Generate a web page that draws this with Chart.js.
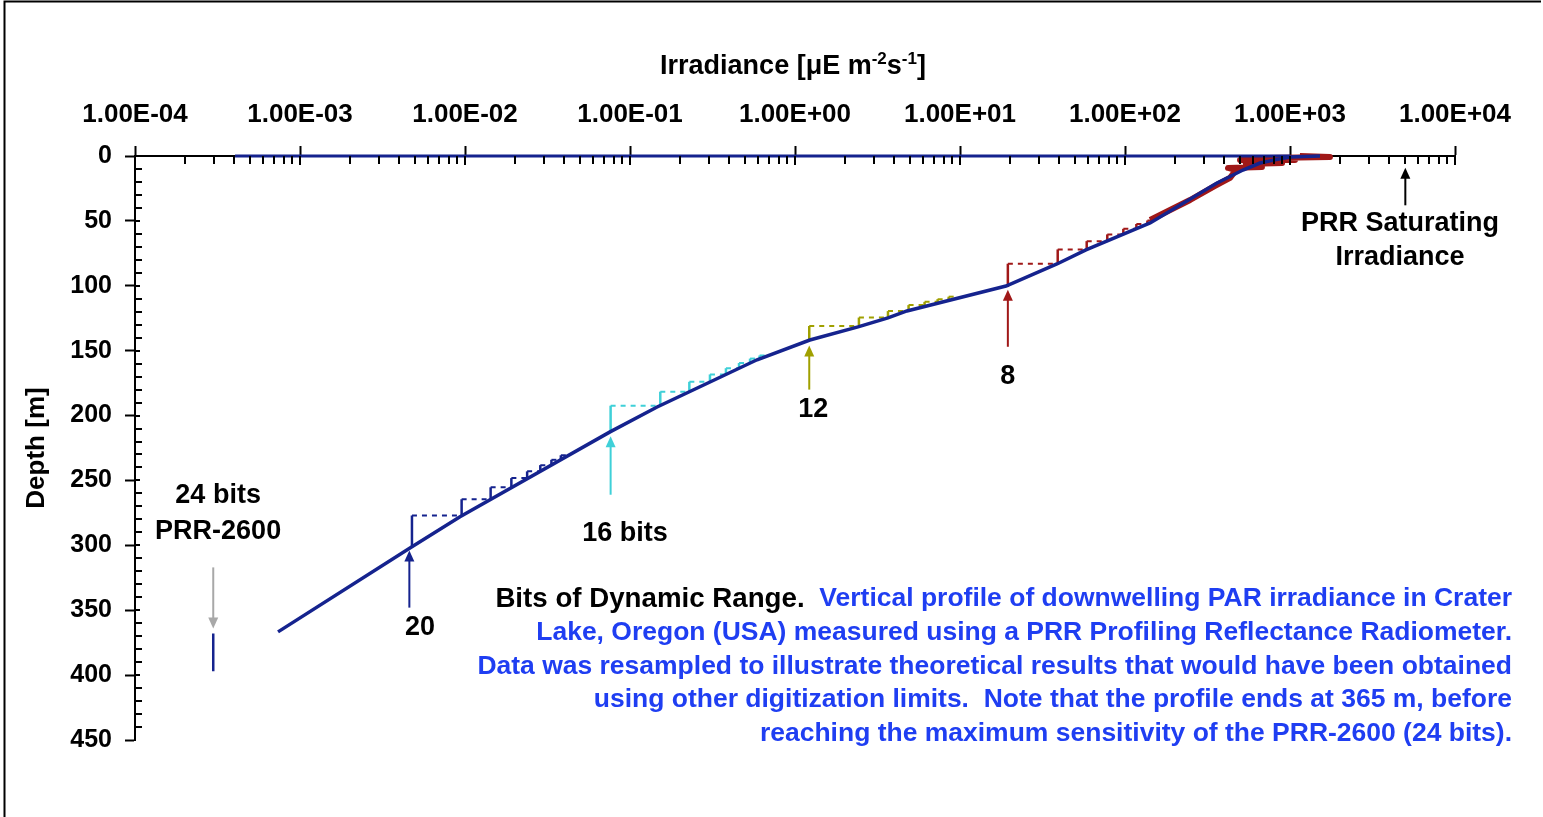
<!DOCTYPE html>
<html>
<head>
<meta charset="utf-8">
<title>Bits of Dynamic Range</title>
<script src="https://cdn.jsdelivr.net/npm/chart.js@4.4.1/dist/chart.umd.min.js"></script>
<style>
  html, body { margin: 0; padding: 0; background: #fff; }
  #wrap { width: 1543px; height: 817px; }
</style>
</head>
<body>
<div id="wrap"><canvas id="chart" width="1543" height="817"></canvas></div>
<script>
"use strict";

// top axis decades and depth ticks
var decadeTicks = [1e-4, 1e-3, 1e-2, 1e-1, 1e0, 1e1, 1e2, 1e3, 1e4];
var depthTicks  = [0, 50, 100, 150, 200, 250, 300, 350, 400, 450];

// measured PRR profile, irradiance [uE m-2 s-1] vs depth [m]
var profileIrr   = [1520, 1000, 811, 658, 519, 361, 142, 58.0, 38.7, 19.0, 4.77, 3.66, 2.41, 1.23, 0.589, 0.146, 0.0757, 0.00933, 0.00464, 0.000736];
var profileDepth = [0,    0.8,  3,   5.4, 10.8, 20.8, 51.6, 72.4, 83.2, 100.2, 119.4, 124.8, 131.7, 141.8, 157, 193.4, 212.6, 278, 302, 366.7];

// noisy near-surface readings (wave focusing)
var surfIrr   = [142, 248, 351, 433, 471, 421, 676, 541, 895, 498, 1072, 736, 1746, 1148];
var surfDepth = [49.3, 33.9, 23.1, 16.9, 10.8, 9.2, 8.5, 6.2, 5.4, 3.1, 3.1, 1.5, 0.8, 0];

// surface row
var topIrr   = [0.000404, 1000];
var topDepth = [0, 0];

// resampled staircases: quantisation levels and depth where the profile crosses each
var bits8Levels  = [19.5, 39.1, 58.6, 78.1, 97.7, 117.2, 136.7, 156.3];
var bits8Depths  = [101, 83, 72, 65.6, 60.4, 56.1, 52.4, 49.7];
var bits12Levels = [1.22, 2.44, 3.66, 4.88, 6.10, 7.32, 8.54, 9.77];
var bits12Depths = [142, 131, 124.5, 119.5, 114.9, 112.4, 110.3, 108.4];
var bits16Levels = [0.0763, 0.1526, 0.2289, 0.3052, 0.3815, 0.4578, 0.5341, 0.6104, 0.6867];
var bits16Depths = [212, 192.4, 181.6, 174, 168.3, 163.5, 159.5, 156.1, 153.7];
var bits20Levels = [0.00477, 0.00954, 0.0143, 0.0191, 0.0238, 0.0286, 0.0334, 0.0381, 0.0429];
var bits20Depths = [301, 277, 264.5, 255.3, 248.2, 243, 238.2, 234.1, 230.6];
var bits24Irr    = [0.000298, 0.000298];
var bits24Depth  = [368, 397];

var NAVY = "#15238e";
var RED = "#a01818";
var OLIVE = "#a0a000";
var CYAN = "#3fd0d8";
var GREY = "#a8a8a8";
var TEXTBLUE = "#1f3ef2";
var FONT = "'Liberation Sans', Arial, sans-serif";

function pairs(xs, ys) {
    return xs.map(function(v, i) { return {x: v, y: ys[i]}; });
}

// vertical step at each level, dashed run across to the next one
function stairs(levels, depths) {
    var pts = [{x: levels[0], y: depths[0]}];
    for (var k = 1; k < levels.length; k++) {
        pts.push({x: levels[k - 1], y: depths[k]});
        pts.push({x: levels[k], y: depths[k]});
    }
    return pts;
}

function stairSet(levels, depths, color) {
    return {
        data: stairs(levels, depths),
        borderColor: color,
        borderWidth: 2.5,
        segment: {
            borderDash: function(ctx) { return ctx.p0DataIndex % 2 === 1 ? [5, 5] : undefined; },
            borderWidth: function(ctx) { return ctx.p0DataIndex % 2 === 1 ? 2 : 2.5; }
        }
    };
}

function sci(v) {
    var e = Math.round(Math.log10(v));
    return "1.00E" + (e < 0 ? "-" : "+") + String(Math.abs(e)).padStart(2, "0");
}

var datasets = [
    {data: pairs(profileIrr, profileDepth), borderColor: NAVY, borderWidth: 3.5},
    {data: pairs(topIrr, topDepth), borderColor: NAVY, borderWidth: 3},
    {data: pairs(surfIrr, surfDepth), borderColor: RED, borderWidth: 6, borderJoinStyle: "round"},
    stairSet(bits8Levels, bits8Depths, RED),
    stairSet(bits12Levels, bits12Depths, OLIVE),
    stairSet(bits16Levels, bits16Depths, CYAN),
    stairSet(bits20Levels, bits20Depths, NAVY),
    {data: pairs(bits24Irr, bits24Depth), borderColor: NAVY, borderWidth: 2.5}
];
datasets.forEach(function(d) {
    d.pointRadius = 0;
    d.tension = 0;
    d.fill = false;
    d.clip = 6;
});

// arrows and labels, in data coordinates
var arrows = [
    {v: 5000,    from: 38,  to: 9,   color: "#000"},
    {v: 19.5,    from: 147, to: 103, color: RED},
    {v: 1.22,    from: 180, to: 146, color: OLIVE},
    {v: 0.0763,  from: 261, to: 216, color: CYAN},
    {v: 0.0046,  from: 348, to: 304, color: NAVY},
    {v: 0.000298, from: 317, to: 364, color: GREY}
];
var labels = [
    {v: 4645,    d: 52.4,  text: "PRR Saturating"},
    {v: 4645,    d: 78.6,  text: "Irradiance"},
    {v: 19.5,    d: 170,   text: "8"},
    {v: 1.29,    d: 195.7, text: "12"},
    {v: 0.0934,  d: 291,   text: "16 bits"},
    {v: 0.00533, d: 363,   text: "20"},
    {v: 0.000319, d: 262,  text: "24 bits"},
    {v: 0.000319, d: 289,  text: "PRR-2600"}
];
var noteLines = [
    [["Bits of Dynamic Range.", "#000"], ["  Vertical profile of downwelling PAR irradiance in Crater", TEXTBLUE]],
    [["Lake, Oregon (USA) measured using a PRR Profiling Reflectance Radiometer.", TEXTBLUE]],
    [["Data was resampled to illustrate theoretical results that would have been obtained", TEXTBLUE]],
    [["using other digitization limits.  Note that the profile ends at 365 m, before", TEXTBLUE]],
    [["reaching the maximum sensitivity of the PRR-2600 (24 bits).", TEXTBLUE]]
];

function drawArrow(ctx, x, y0, y1, color) {
    var dir = y1 > y0 ? 1 : -1;
    ctx.strokeStyle = color;
    ctx.fillStyle = color;
    ctx.lineWidth = 2;
    ctx.beginPath();
    ctx.moveTo(x, y0);
    ctx.lineTo(x, y1 - dir * 8);
    ctx.stroke();
    ctx.beginPath();
    ctx.moveTo(x, y1);
    ctx.lineTo(x - 5, y1 - dir * 11);
    ctx.lineTo(x + 5, y1 - dir * 11);
    ctx.closePath();
    ctx.fill();
}

var extras = {
    id: "extras",
    afterDraw: function(chart) {
        var ctx = chart.ctx;
        var xs = chart.scales.x, ys = chart.scales.y;
        var area = chart.chartArea;
        ctx.save();

        // frame
        ctx.strokeStyle = "#000";
        ctx.lineWidth = 2;
        ctx.beginPath();
        ctx.moveTo(1541, 1.5);
        ctx.lineTo(4.5, 1.5);
        ctx.lineTo(4.5, 817);
        ctx.stroke();

        // inner tick marks
        ctx.lineWidth = 2;
        ctx.beginPath();
        for (var e = -4; e <= 3; e++) {
            for (var m = 1; m <= 9; m++) {
                var px = Math.round(xs.getPixelForValue(m * Math.pow(10, e)));
                ctx.moveTo(px, area.top);
                ctx.lineTo(px, area.top + (m === 1 ? 9 : 8));
            }
        }
        var pr = Math.round(xs.getPixelForValue(1e4));
        ctx.moveTo(pr, area.top);
        ctx.lineTo(pr, area.top + 9);
        for (var d = 10; d < 450; d += 10) {
            var py = Math.round(ys.getPixelForValue(d));
            ctx.moveTo(area.left, py);
            ctx.lineTo(area.left + (d % 50 === 0 ? 5 : 7), py);
        }
        ctx.stroke();

        // axis title with superscripts
        var big = "bold 27px " + FONT, small = "bold 17px " + FONT;
        var parts = [["Irradiance [\u03bcE m", big, 0], ["-2", small, -10], ["s", big, 0], ["-1", small, -10], ["]", big, 0]];
        var total = 0;
        parts.forEach(function(p) { ctx.font = p[1]; total += ctx.measureText(p[0]).width; });
        var tx = 793 - total / 2;
        ctx.fillStyle = "#000";
        ctx.textBaseline = "alphabetic";
        ctx.textAlign = "left";
        parts.forEach(function(p) {
            ctx.font = p[1];
            ctx.fillText(p[0], tx, 74 + p[2]);
            tx += ctx.measureText(p[0]).width;
        });

        // arrows
        arrows.forEach(function(a) {
            drawArrow(ctx, xs.getPixelForValue(a.v), ys.getPixelForValue(a.from), ys.getPixelForValue(a.to), a.color);
        });

        // labels
        ctx.font = "bold 27px " + FONT;
        ctx.fillStyle = "#000";
        ctx.textAlign = "center";
        ctx.textBaseline = "middle";
        labels.forEach(function(l) {
            ctx.fillText(l.text, xs.getPixelForValue(l.v), ys.getPixelForValue(l.d));
        });

        // caption, right aligned, sized to the third line
        ctx.font = "bold 24px " + FONT;
        var w3 = ctx.measureText(noteLines[2][0][0]).width;
        var size = Math.max(18, Math.min(28, 24 * 1035 / w3));
        var bodyFont = "bold " + size.toFixed(2) + "px " + FONT;
        var leadFont = "bold " + (size * 1.045).toFixed(2) + "px " + FONT;
        ctx.textAlign = "left";
        var lineY = [599, 633, 667, 700, 734];
        noteLines.forEach(function(line, i) {
            var w = 0;
            line.forEach(function(s) {
                ctx.font = s[1] === "#000" ? leadFont : bodyFont;
                w += ctx.measureText(s[0]).width;
            });
            var x = 1512 - w;
            line.forEach(function(s) {
                ctx.font = s[1] === "#000" ? leadFont : bodyFont;
                ctx.fillStyle = s[1];
                ctx.fillText(s[0], x, lineY[i]);
                x += ctx.measureText(s[0]).width;
            });
        });
        ctx.restore();
    }
};

new Chart(document.getElementById("chart"), {
    type: "line",
    data: {datasets: datasets},
    options: {
        responsive: false,
        animation: false,
        parsing: false,
        normalized: true,
        layout: {padding: {left: 5, top: 0, right: 88, bottom: 77}},
        plugins: {legend: {display: false}, tooltip: {enabled: false}},
        scales: {
            x: {
                type: "logarithmic",
                position: "top",
                min: 1e-4,
                max: 1e4,
                afterBuildTicks: function(s) { s.ticks = decadeTicks.map(function(v) { return {value: v, major: true}; }); },
                afterFit: function(s) { s.height = 156; },
                ticks: {
                    callback: function(v) { return sci(v); },
                    color: "#000",
                    font: {family: FONT, size: 26, weight: "bold"},
                    padding: 16,
                    maxRotation: 0,
                    autoSkip: false
                },
                grid: {drawOnChartArea: false, drawTicks: true, tickLength: 10, tickWidth: 2, tickColor: "#000", color: "#000"},
                border: {display: true, color: "#000", width: 2}
            },
            y: {
                type: "linear",
                position: "left",
                reverse: true,
                min: 0,
                max: 450,
                afterBuildTicks: function(s) { s.ticks = depthTicks.map(function(v) { return {value: v}; }); },
                afterFit: function(s) { s.width = 130; },
                ticks: {
                    color: "#000",
                    font: {family: FONT, size: 25, weight: "bold"},
                    padding: 13
                },
                title: {
                    display: true,
                    text: "Depth [m]",
                    color: "#000",
                    font: {family: FONT, size: 26, weight: "bold"},
                    padding: {top: 16, bottom: 0}
                },
                grid: {drawOnChartArea: false, drawTicks: true, tickLength: 10, tickWidth: 2, tickColor: "#000", color: "#000"},
                border: {display: true, color: "#000", width: 2}
            }
        }
    },
    plugins: [extras]
});
</script>
</body>
</html>
